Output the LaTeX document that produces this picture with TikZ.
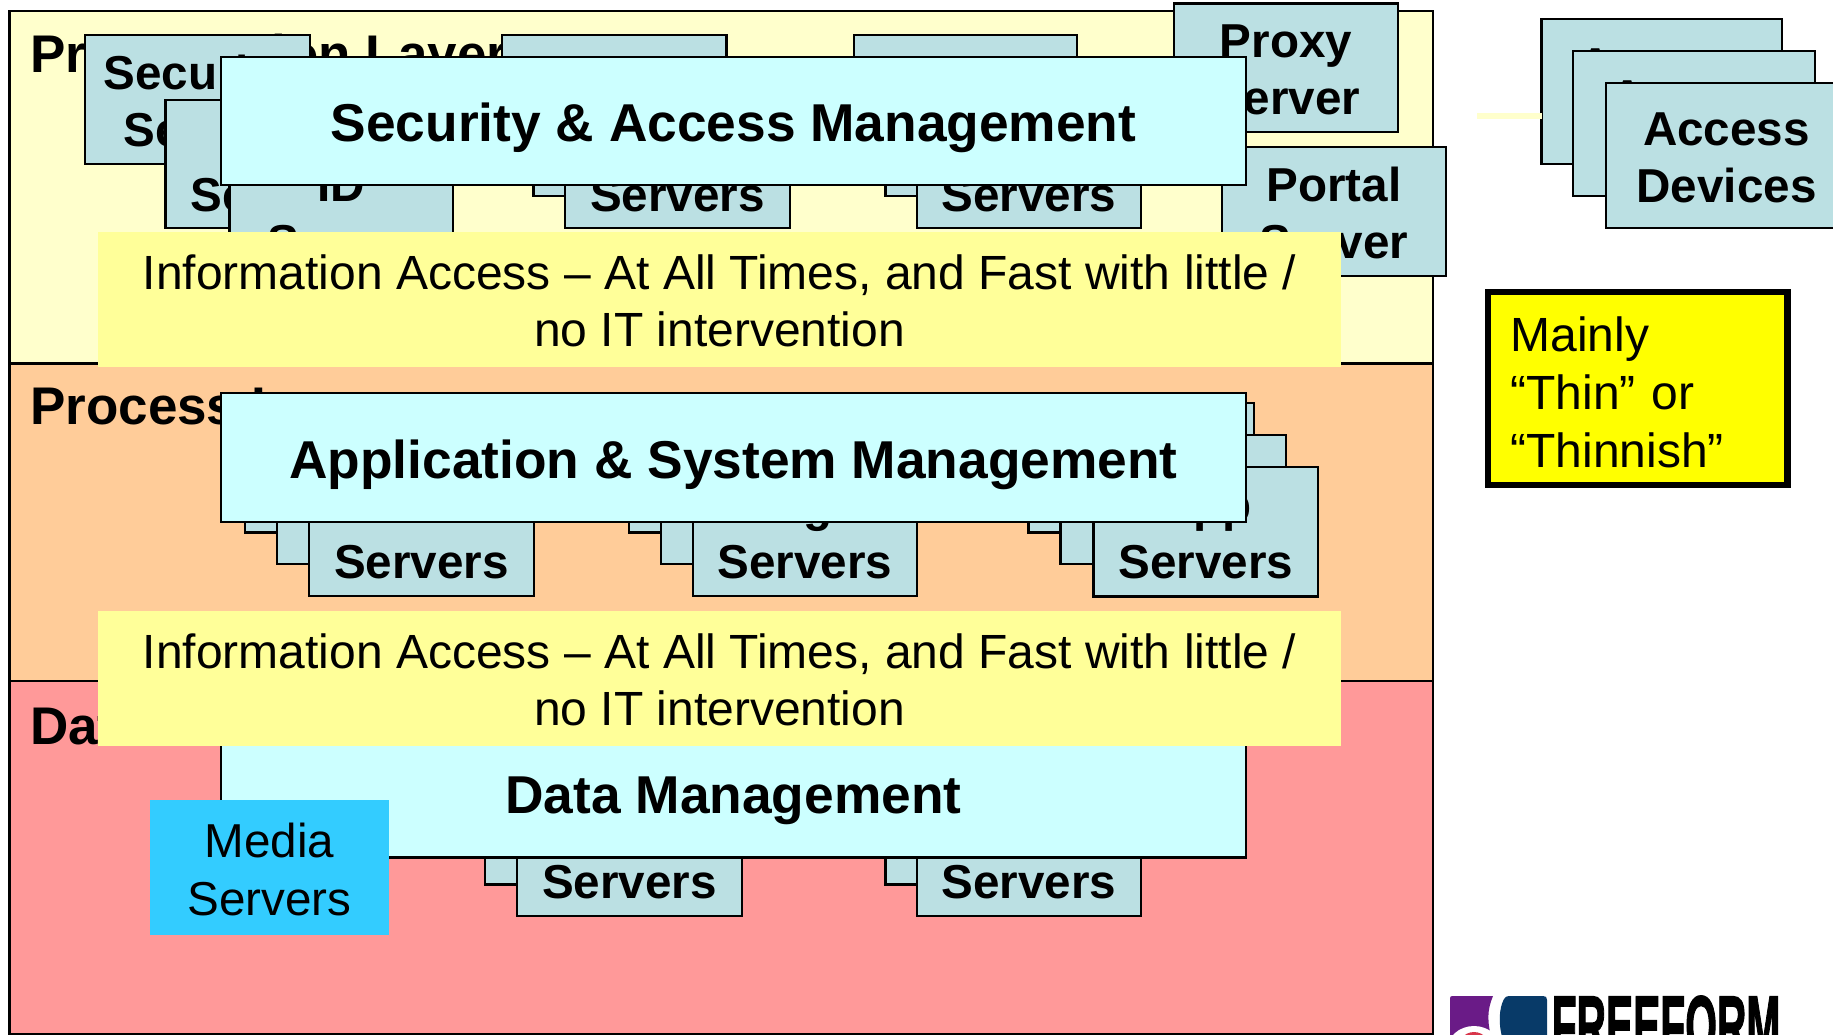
\documentclass[tikz,border=0pt]{standalone}
\usepackage{fontspec}
\usepackage{graphicx}
\setmainfont{Liberation Sans}
\newfontfamily\logofont[FakeBold=2]{Liberation Sans Bold}
\definecolor{layerA}{HTML}{FFFFCC}
\definecolor{layerB}{HTML}{FFCC99}
\definecolor{layerC}{HTML}{FF9999}
\definecolor{srvfill}{HTML}{BBE0E3}
\definecolor{mgmtfill}{HTML}{CCFFFF}
\definecolor{infofill}{HTML}{FFFF99}
\definecolor{mediafill}{HTML}{33CCFF}
\definecolor{notefill}{HTML}{FFFF00}
\definecolor{logopurple}{HTML}{6A1B87}
\definecolor{logoblue}{HTML}{083A68}
\definecolor{logored}{HTML}{D8354A}
\newcommand{\placebox}[7]{\node[#1,minimum width={#4pt-#2pt},minimum height={#5pt-#3pt}] (#6) at ({(#2+#4)/2},{(#3+#5)/2}) {#7};}
\newcommand{\firstline}{\rule{0pt}{37.8pt}}
\tikzset{
  layerbox/.style={draw=black,line width=2.5pt,inner sep=0pt,outer sep=0pt},
  layerlabel/.style={anchor=base west,inner sep=0pt,font=\fontsize{53}{60}\selectfont\bfseries},
  srvbox/.style={draw=black,line width=2.8pt,fill=srvfill,inner sep=0pt,outer sep=0pt,align=center,font=\fontsize{47.6}{57}\selectfont\bfseries},
  mgmtbox/.style={draw=black,line width=2.8pt,fill=mgmtfill,inner sep=0pt,outer sep=0pt,text height=41.8pt,text depth=0pt,font=\fontsize{53.3}{60}\selectfont\bfseries},
  infobox/.style={fill=infofill,inner sep=0pt,outer sep=0pt,align=center,font=\fontsize{48}{57}\selectfont},
  mediabox/.style={fill=mediafill,inner sep=0pt,outer sep=0pt,align=center,font=\fontsize{47.6}{58}\selectfont},
  notebox/.style={draw=black,line width=6.5pt,fill=notefill,inner ysep=0pt,inner xsep=22.5pt,outer sep=0pt,align=left,text width=254.5pt,font=\fontsize{48}{58}\selectfont},
  fadedlink/.style={draw=layerA,line width=5.5pt},
  partglyph/.style={anchor=base,inner sep=0pt,font=\fontsize{47.6}{57}\selectfont\bfseries}
}
\begin{document}
\begin{tikzpicture}[x=1pt,y=-1pt]
\useasboundingbox (0,0) rectangle (1833,1034);
\clip (0,0) rectangle (1833,1034);
\fill[white] (0,0) rectangle (1833,1034);
% layers
\placebox{layerbox,fill=layerA}{9.5}{11}{1433}{363.5}{layerP}{}
\placebox{layerbox,fill=layerB}{9.5}{363.5}{1433}{681}{layerQ}{}
\placebox{layerbox,fill=layerC}{9.5}{681}{1433}{1034.5}{layerD}{}
\node[layerlabel] (labelP) at (30,72.7) {Presentation Layer};
\node[layerlabel] (labelQ) at (30,424.8) {Process Layer};
\node[layerlabel] (labelD) at (30,744.5) {Data Layer};
% presentation layer servers
\placebox{srvbox}{85}{35}{310}{164}{secA}{\firstline Security\\Server}
\placebox{srvbox}{165.5}{100}{390}{228}{secB}{\firstline\\Servers}
\placebox{srvbox}{229.5}{147}{453}{276}{secC}{\firstline ID\\Server}
\placebox{srvbox}{502}{35}{726.5}{164}{webA}{}
\placebox{srvbox}{533.5}{67}{758}{196}{webB}{}
\placebox{srvbox}{565}{100}{790}{228}{webC}{\firstline\\Servers}
\placebox{srvbox}{854}{35}{1077}{164}{appA}{}
\placebox{srvbox}{885.5}{67}{1109}{196}{appB}{}
\placebox{srvbox}{917}{100}{1141}{228}{appC}{\firstline\\Servers}
\placebox{srvbox}{1174}{3.3}{1398}{132}{proxy}{\firstline Proxy\\Server}
\placebox{srvbox}{1222}{147}{1446}{276}{portal}{\firstline Portal\\Server}
% process layer servers
\placebox{srvbox}{245}{403}{470}{532.5}{procA}{}
\placebox{srvbox}{277}{435}{502}{564}{procB}{}
\placebox{srvbox}{309}{467}{534}{596}{procC}{\firstline\\Servers}
\placebox{srvbox}{629}{403}{853}{532.5}{midA}{}
\placebox{srvbox}{661}{435}{885}{564}{midB}{}
\placebox{srvbox}{693}{467}{917}{596}{midC}{\firstline\\Servers}
\node[partglyph] (midG) at (818,521) {g};
\placebox{srvbox}{1028.6}{403}{1254}{532.5}{runA}{}
\placebox{srvbox}{1060.7}{435}{1286}{564}{runB}{}
\placebox{srvbox}{1093.5}{467}{1318}{596.5}{runC}{\firstline App\\Servers}
% data layer servers
\placebox{srvbox}{485}{755}{710}{884.5}{dbA}{}
\placebox{srvbox}{517}{787}{742}{916}{dbB}{\firstline\\Servers}
\placebox{srvbox}{885.5}{755}{1109}{884.5}{fileA}{}
\placebox{srvbox}{917}{787}{1141}{916}{fileB}{\firstline\\Servers}
% management bands
\placebox{mgmtbox}{221}{57}{1246}{185}{mgmtS}{Security \& Access Management}
\placebox{mgmtbox}{221}{393}{1246}{522}{mgmtA}{Application \& System Management}
\placebox{mgmtbox}{221}{728}{1246}{857.4}{mgmtD}{Data Management}
% media
\placebox{mediabox}{150}{800}{389}{935}{media}{\firstline Media\\Servers}
% information strips
\placebox{infobox}{98}{232}{1341}{367}{infoA}{\firstline Information Access – At All Times, and Fast with little /\\no IT intervention}
\placebox{infobox}{98}{611}{1341}{746}{infoB}{\firstline Information Access – At All Times, and Fast with little /\\no IT intervention}
% access devices
\placebox{srvbox}{1541.7}{19}{1782}{164}{devA}{\firstline Access\\Devices}
\placebox{srvbox}{1573}{51}{1815}{196}{devB}{\firstline Access\\Devices}
\placebox{srvbox}{1606}{83}{1847}{228}{devC}{\firstline Access\\Devices}
\coordinate (linkstart) at (1477,116);
\draw[fadedlink] (linkstart) -- (devA.west |- linkstart);
% note
\placebox{notebox}{1488}{292}{1787.5}{485}{note}{\rule{0pt}{41.5pt}Mainly\\“Thin” or\\“Thinnish”}
% logo
\fill[logopurple] (1452,996) -- (1493,996) .. controls (1487,1010) and (1487,1022) .. (1492,1040) -- (1450,1040) -- (1450,998) .. controls (1450,997) and (1451,996) .. (1452,996) -- cycle;
\fill[logoblue] (1509,996) -- (1543,996) .. controls (1546,996) and (1547,997) .. (1547,1000) -- (1547,1040) -- (1503,1040) .. controls (1498,1025) and (1499,1008) .. (1504,999) .. controls (1505,997) and (1507,996) .. (1509,996) -- cycle;
\fill[white] (1474,1050) ellipse (27 and 24);
\fill[logored] (1474,1053) ellipse (18 and 21);
\node[anchor=base,inner sep=0pt,font=\fontsize{84}{90}\logofont] (logotext) at (1666,1054.5) {\scalebox{.485}[1]{FREEFORM}};
\end{tikzpicture}
\end{document}
